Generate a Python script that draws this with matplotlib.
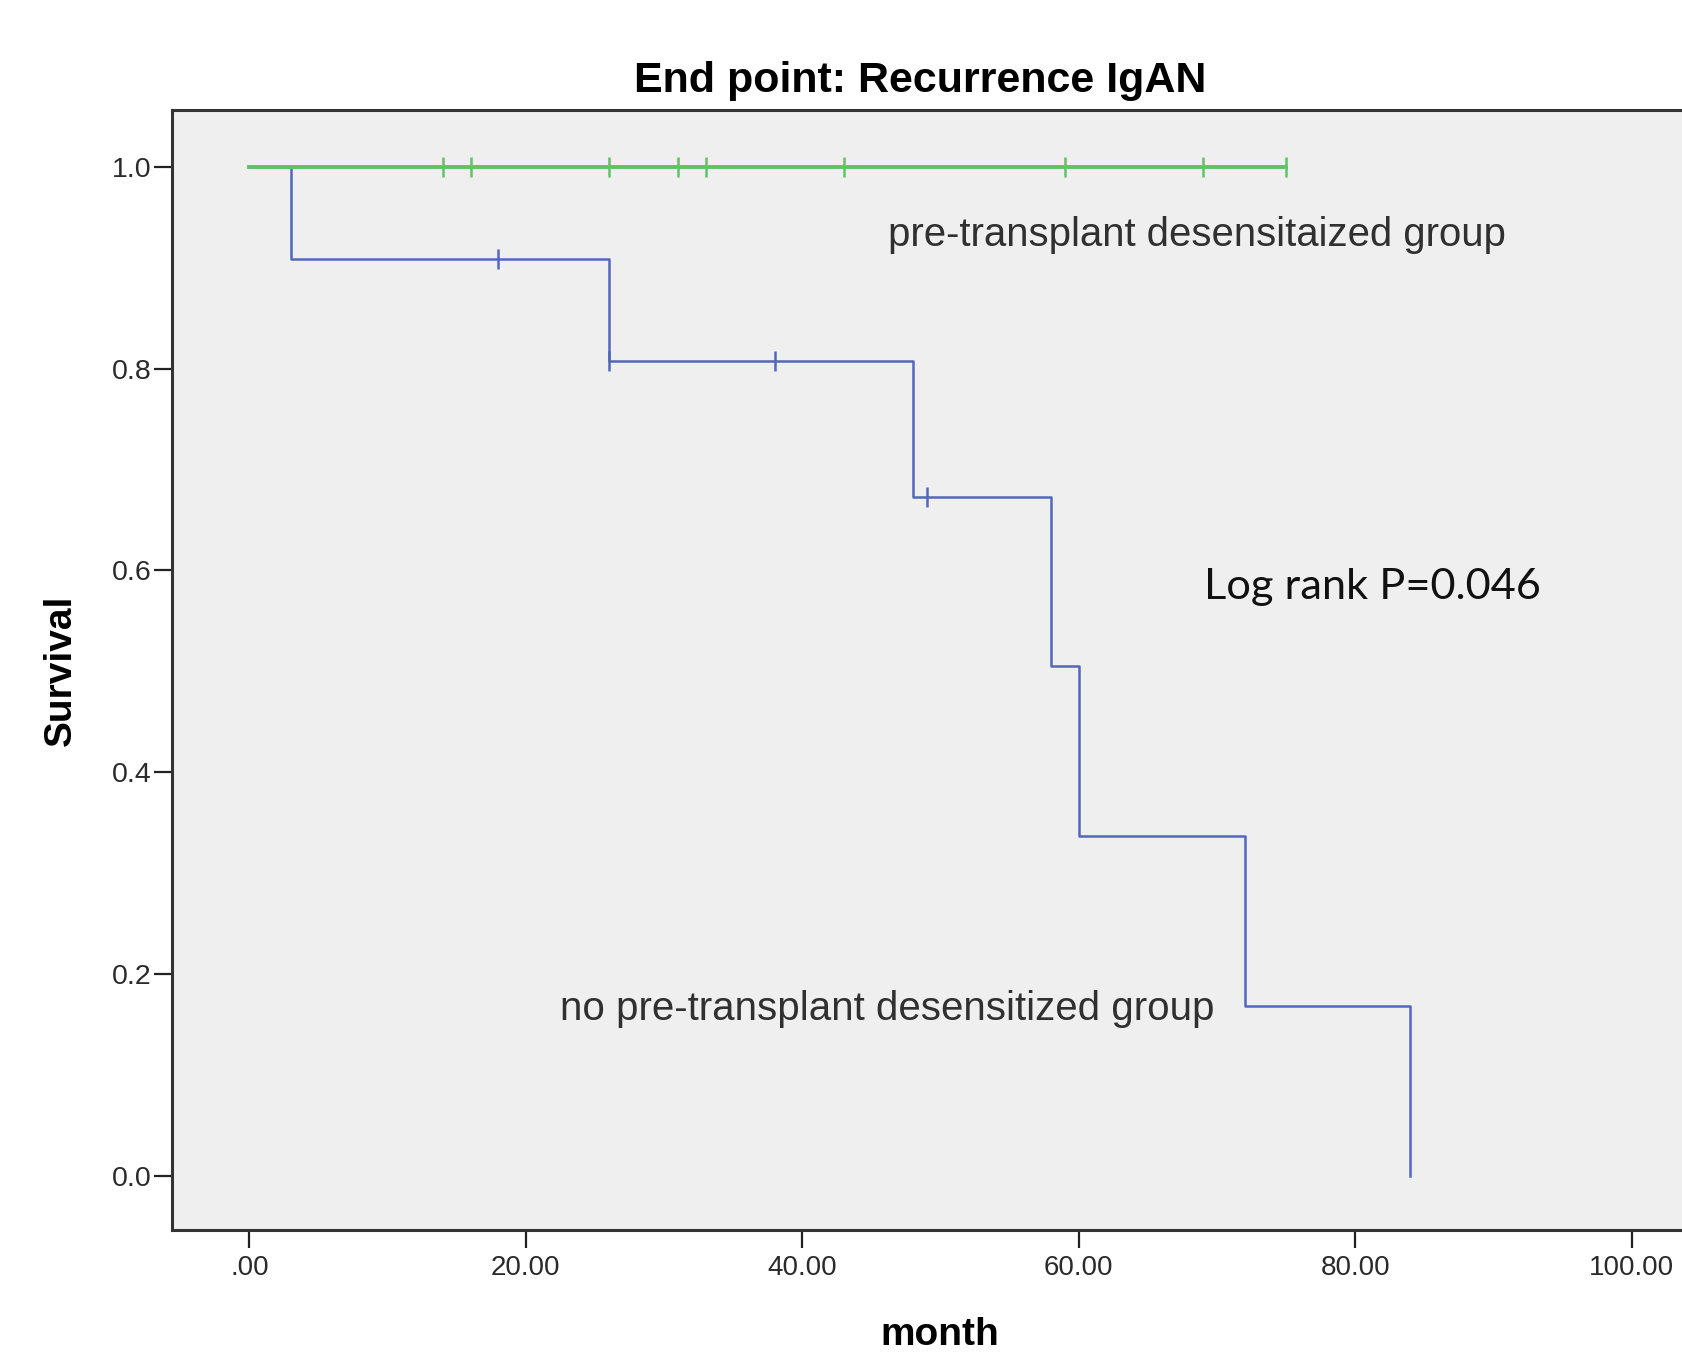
import matplotlib
matplotlib.use('Agg')
import matplotlib.pyplot as plt
import numpy as np

# Kaplan-Meier data
no_event_times = [0, 3, 26, 48, 58, 60, 72, 84]
no_survival = [1.0, 0.909, 0.808, 0.673, 0.505, 0.337, 0.168, 0.0]
no_censor_times = [18, 26, 38, 49]

pre_times = [0, 75]
pre_survival = [1.0, 1.0]
pre_censor_times = [14, 16, 26, 31, 33, 43, 59, 69, 75]

x_ticks = [0, 20, 40, 60, 80, 100]
x_tick_labels = ['.00', '20.00', '40.00', '60.00', '80.00', '100.00']
y_ticks = [0.0, 0.2, 0.4, 0.6, 0.8, 1.0]
y_tick_labels = ['0.0', '0.2', '0.4', '0.6', '0.8', '1.0']

green = '#5ec467'
blue = '#5266bd'
bg = '#efefef'


def surv_at(times, surv, t):
    i = np.searchsorted(times, t, side='right') - 1
    return surv[i]


fig = plt.figure(figsize=(16.82, 13.59), dpi=100, facecolor='white')
ax = fig.add_axes([0.1023, 0.0949, 0.9137, 0.8238])
ax.set_facecolor(bg)
ax.set_xlim(-5.6, 105.6)
ax.set_ylim(-0.054, 1.056)

# no pre-transplant group (blue)
ax.step(no_event_times, no_survival, where='post', color=blue, lw=1.8, zorder=3)
ax.plot(no_censor_times,
        [surv_at(no_event_times, no_survival, t) for t in no_censor_times],
        ls='none', marker='|', ms=15, mew=1.8, color=blue, zorder=3)

# pre-transplant group (green)
ax.step(pre_times, pre_survival, where='post', color=green, lw=2.8, zorder=4)
ax.plot(pre_censor_times,
        [surv_at(pre_times, pre_survival, t) for t in pre_censor_times],
        ls='none', marker='|', ms=15, mew=1.8, color=green, zorder=4)

# annotations
ax.text(46.2, 0.933, 'pre-transplant desensitaized group', fontsize=28.9,
        family='Liberation Sans', color='#303030', ha='left', va='center')
ax.text(22.5, 0.165, 'no pre-transplant desensitized group', fontsize=29,
        family='Liberation Sans', color='#303030', ha='left', va='center')
ax.text(69.1, 0.584, 'Log rank P=0.046', fontsize=31.2,
        family='Lato', color='#111111', ha='left', va='center')

# axes styling
ax.set_xticks(x_ticks)
ax.set_xticklabels(x_tick_labels, family='Liberation Sans', fontsize=20, color='#2a2a2a')
ax.set_yticks(y_ticks)
ax.set_yticklabels(y_tick_labels, family='Liberation Sans', fontsize=20.5, color='#2a2a2a')
ax.tick_params(axis='both', direction='out', length=13, width=1.6, color='#222222')
ax.tick_params(axis='y', pad=2)
ax.tick_params(axis='x', pad=5)
for s in ax.spines.values():
    s.set_linewidth(2.2)
    s.set_color('#333333')

fig.text(0.547, 0.9323, 'End point: Recurrence IgAN', fontsize=31, fontweight='bold',
         family='Liberation Sans', ha='center', va='baseline')
fig.text(0.0363, 0.507, 'Survival', fontsize=28, fontweight='bold',
         family='Liberation Sans', rotation=90, ha='center', va='center')
fig.text(0.559, 0.0177, 'month', fontsize=28, fontweight='bold',
         family='Liberation Sans', ha='center', va='center')

fig.savefig('out.png', dpi=100, facecolor='white')
